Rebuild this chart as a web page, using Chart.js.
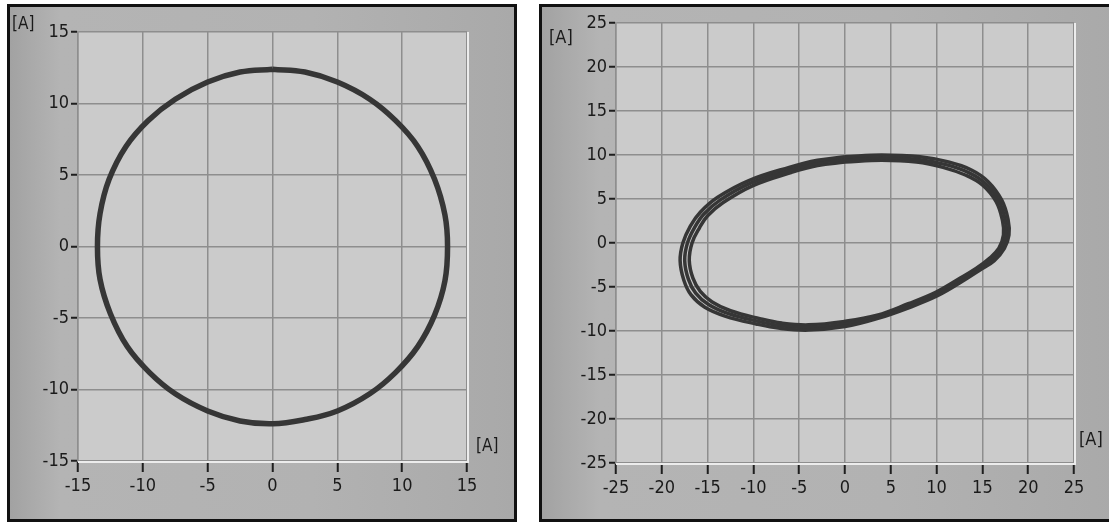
<!DOCTYPE html>
<html>
<head>
<meta charset="utf-8">
<script src="https://cdn.jsdelivr.net/npm/chart.js@4/dist/chart.umd.min.js"></script>
<style>
  body { margin: 0; background: #fff; width: 1109px; height: 522px; overflow: hidden; position: relative; }
  .frame { position: absolute; box-sizing: border-box; border: 3px solid #111;
           background: linear-gradient(to right, #a2a2a2 0%, #b4b4b4 10%, #b2b2b2 60%, #a9a9a9 100%); }
  canvas { position: absolute; }
</style>
</head>
<body>
<div class="frame" style="left:7px;top:4px;width:510px;height:518px;"></div>
<div class="frame" style="left:539px;top:4px;width:580px;height:518px;border-right:none;"></div>
<canvas id="leftChart" width="503" height="512" style="left:10px;top:7px;"></canvas>
<canvas id="rightChart" width="567" height="512" style="left:542px;top:7px;"></canvas>
<script>
// left plot: near-circular current trajectory
const leftTicks = [-15, -10, -5, 0, 5, 10, 15];
const circleX = [0, 2.5, 5, 7.5, 9.5, 11.2, 12.5, 13.3, 13.5, 13.3, 12.5, 11.2, 9.5, 7.5, 5, 2.5, 0,
                 -2.5, -5, -7.5, -9.5, -11.2, -12.5, -13.3, -13.5, -13.3, -12.6, -11.3, -9.6, -7.5, -5, -2.5, 0];
const circleY = [12.4, 12.2, 11.5, 10.3, 8.8, 7.0, 4.7, 2.2, 0, -2.4, -4.8, -7.0, -8.8, -10.3, -11.5, -12.1, -12.4,
                 -12.2, -11.5, -10.3, -8.8, -7.0, -4.7, -2.3, 0, 2.3, 4.7, 7.0, 8.8, 10.3, 11.5, 12.2, 12.4];

// right plot: tilted elliptical trajectory, several overlapping loops
const rightTicks = [-25, -20, -15, -10, -5, 0, 5, 10, 15, 20, 25];
const loopAX = [0, 4.0, 8.0, 11.0, 13.5, 15.3, 16.8, 17.5, 17.6, 17.1, 16.0, 14.5, 12.5, 10.0, 7.0, 3.5, 0, -4.0, -7.0, -9.5, -12.8, -14.9, -16.3, -17.1, -17.5, -17.2, -16.4, -15.4, -13.6, -10.3, -6.0, -3.0, 0];
const loopAY = [9.5, 9.7, 9.5, 8.9, 8.0, 6.8, 4.8, 2.6, 0.9, -0.6, -1.9, -3.0, -4.3, -5.8, -7.1, -8.4, -9.2, -9.6, -9.4, -8.9, -8.0, -7.0, -5.7, -4.1, -2.0, 0, 1.8, 3.3, 4.9, 6.8, 8.3, 9.1, 9.5];
const loopBX = [0, 4.0, 8.2, 11.3, 13.8, 15.6, 17.1, 17.8, 17.9, 17.4, 16.3, 14.7, 12.6, 10.1, 7.1, 3.5, 0, -4.0, -7.1, -9.7, -13.1, -15.3, -16.8, -17.6, -18.0, -17.7, -16.9, -15.8, -13.9, -10.5, -6.1, -3.0, 0];
const loopBY = [9.8, 10.0, 9.8, 9.2, 8.3, 7.0, 4.9, 2.7, 0.9, -0.6, -2.0, -3.1, -4.5, -6.0, -7.3, -8.6, -9.5, -9.9, -9.7, -9.2, -8.3, -7.3, -5.9, -4.2, -2.0, 0, 1.9, 3.5, 5.2, 7.1, 8.6, 9.4, 9.8];
const loopCX = [0, 4.0, 7.8, 10.7, 13.2, 15.0, 16.5, 17.2, 17.3, 16.8, 15.7, 14.3, 12.4, 9.9, 6.9, 3.5, 0, -4.0, -6.9, -9.3, -12.5, -14.5, -15.8, -16.6, -17.0, -16.7, -15.9, -15.0, -13.3, -10.1, -5.9, -3.0, 0];
const loopCY = [9.2, 9.4, 9.2, 8.6, 7.7, 6.6, 4.7, 2.5, 0.9, -0.6, -1.8, -2.9, -4.1, -5.6, -6.9, -8.2, -8.9, -9.3, -9.1, -8.6, -7.7, -6.7, -5.5, -4.0, -2.0, 0, 1.7, 3.1, 4.6, 6.5, 8.0, 8.8, 9.2];

const toPoints = (xs, ys) => xs.map((x, i) => ({ x: x, y: ys[i] }));

const fontFamily = "'Liberation Sans Narrow', 'DejaVu Sans Condensed', 'Liberation Sans', sans-serif";
const tickFont = { family: fontFamily, size: 18 };
const lineColor = '#363636';

// plot area fill + light bottom/right edge, and the [A] unit labels
const panelDecor = {
  id: 'panelDecor',
  beforeDraw(chart, args, opts) {
    const { ctx, chartArea: a } = chart;
    ctx.save();
    ctx.fillStyle = '#cbcbcb';
    ctx.fillRect(a.left, a.top, a.right - a.left, a.bottom - a.top);
    ctx.restore();
  },
  afterDraw(chart, args, opts) {
    const { ctx, chartArea: a } = chart;
    ctx.save();
    ctx.strokeStyle = '#ececec';
    ctx.lineWidth = 2;
    ctx.beginPath();
    ctx.moveTo(a.left, a.bottom + 1);
    ctx.lineTo(a.right + 1, a.bottom + 1);
    ctx.lineTo(a.right + 1, a.top);
    ctx.stroke();
    ctx.fillStyle = '#1a1a1a';
    ctx.font = opts.unitSize + 'px ' + fontFamily;
    ctx.textBaseline = 'top';
    ctx.fillText('[A]', opts.yUnit[0], opts.yUnit[1]);
    ctx.fillText('[A]', opts.xUnit[0], opts.xUnit[1]);
    ctx.restore();
  }
};

function makeScale(ticksList, axis, size) {
  return {
    type: 'linear',
    min: ticksList[0],
    max: ticksList[ticksList.length - 1],
    afterBuildTicks: s => { s.ticks = ticksList.map(v => ({ value: v })); },
    afterFit: s => { if (axis === 'y') s.width = size; else s.height = size; },
    grid: { color: '#8e8e8e', lineWidth: 1.5, tickColor: '#1e1e1e', tickLength: axis === 'y' ? 7 : 11, tickWidth: 2 },
    border: { color: '#8e8e8e', width: 1.5 },
    ticks: { color: '#1a1a1a', font: tickFont, padding: axis === 'y' ? 2 : 4, maxRotation: 0, autoSkip: false }
  };
}

new Chart(document.getElementById('leftChart').getContext('2d'), {
  type: 'scatter',
  data: {
    datasets: [{
      data: toPoints(circleX, circleY),
      showLine: true,
      borderColor: lineColor,
      borderWidth: 5.5,
      pointRadius: 0,
      tension: 0.4
    }]
  },
  options: {
    responsive: false,
    devicePixelRatio: 1,
    animation: false,
    layout: { padding: { top: 25, right: 46, bottom: 0, left: 0 } },
    plugins: {
      legend: { display: false },
      tooltip: { enabled: false },
      panelDecor: { unitSize: 17, yUnit: [2, 9], xUnit: [466, 431] }
    },
    scales: {
      x: makeScale(leftTicks, 'x', 58),
      y: makeScale(leftTicks, 'y', 68)
    }
  },
  plugins: [panelDecor]
});

new Chart(document.getElementById('rightChart').getContext('2d'), {
  type: 'scatter',
  data: {
    datasets: [loopBX, loopAX, loopCX].map((xs, i) => ({
      data: toPoints(xs, [loopBY, loopAY, loopCY][i]),
      showLine: true,
      borderColor: lineColor,
      borderWidth: 3.5,
      pointRadius: 0,
      tension: 0.4
    }))
  },
  options: {
    responsive: false,
    devicePixelRatio: 1,
    animation: false,
    layout: { padding: { top: 16, right: 35, bottom: 0, left: 0 } },
    plugins: {
      legend: { display: false },
      tooltip: { enabled: false },
      panelDecor: { unitSize: 18, yUnit: [7, 22], xUnit: [537, 424] }
    },
    scales: {
      x: makeScale(rightTicks, 'x', 56),
      y: makeScale(rightTicks, 'y', 74)
    }
  },
  plugins: [panelDecor]
});
</script>
</body>
</html>
